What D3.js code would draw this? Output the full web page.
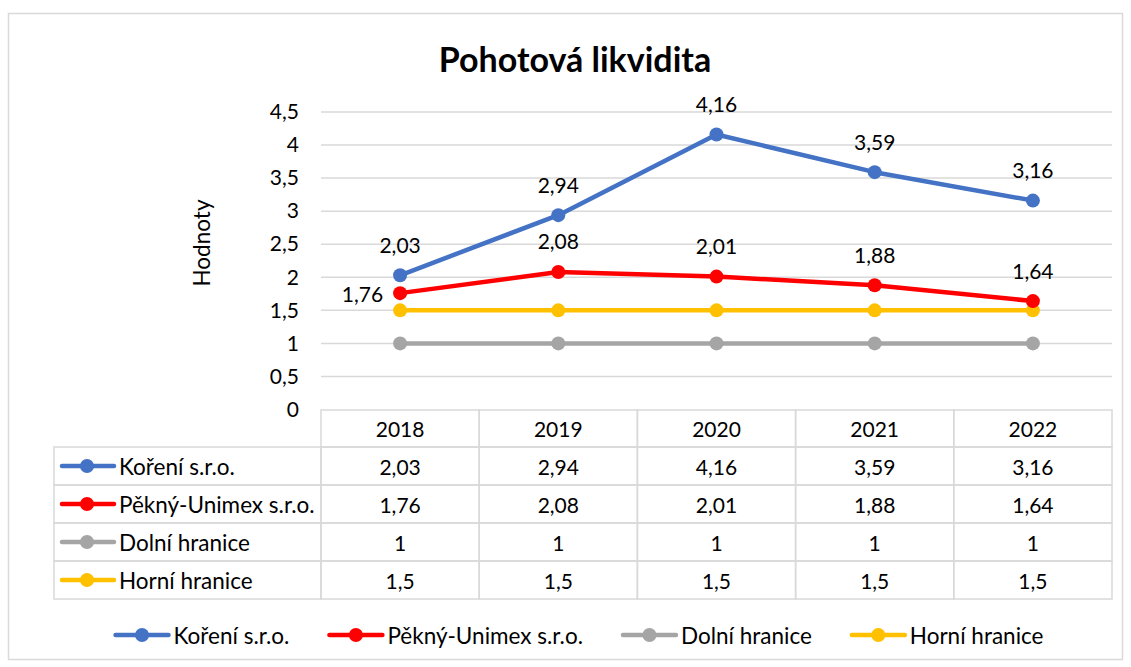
<!DOCTYPE html>
<html><head><meta charset="utf-8">
<script src="https://cdn.jsdelivr.net/npm/d3@7"></script>
<style>body{margin:0;background:#fff}svg{display:block}text{font-family:Lato,"Open Sans",sans-serif;fill:#000}</style>
</head><body><svg id="c" width="1131" height="667"></svg>
<script>
const years = ["2018","2019","2020","2021","2022"];
const seriesNames = ["Koření s.r.o.","Pěkný-Unimex s.r.o.","Dolní hranice","Horní hranice"];
const koreni = [2.03,2.94,4.16,3.59,3.16];
const pekny = [1.76,2.08,2.01,1.88,1.64];
const dolni = [1,1,1,1,1];
const horni = [1.5,1.5,1.5,1.5,1.5];
const colors = ["#4472C4","#FF0000","#A5A5A5","#FFC000"];
const yTicks = [0,0.5,1,1.5,2,2.5,3,3.5,4,4.5];
const title = "Pohotová likvidita";
const yTitle = "Hodnoty";

const series = [koreni,pekny,dolni,horni].map((v,i)=>({name:seriesNames[i],values:v,color:colors[i],labels:i<2}));
const loc = d3.formatLocale({decimal:",",thousands:" ",grouping:[3],currency:["","Kč"]});
const fmt = loc.format("~g");

const svg = d3.select("#c");
const L=321,R=1112,T=112,B=409.5;
const x = d3.scaleBand().domain(years).range([L,R]);
const y = d3.scaleLinear().domain([0,4.5]).range([B,T]);
const fs = 21;     // numbers
const fw = 22.5;   // words

svg.append("rect").attr("x",8.5).attr("y",13.5).attr("width",1114).attr("height",646).attr("fill","#fff").attr("stroke","#d9d9d9").attr("stroke-width",1.5);

svg.append("text").attr("x",575).attr("y",58).attr("text-anchor","middle").attr("dominant-baseline","central")
  .style("font-size","34px").style("font-weight","bold").text(title);

// grid
const g = svg.append("g");
g.selectAll("line.grid").data(yTicks.filter(d=>d>0)).join("line").attr("class","grid")
  .attr("x1",L).attr("x2",R).attr("y1",d=>y(d)).attr("y2",d=>y(d)).attr("stroke","#d9d9d9").attr("stroke-width",1.5);
const yAxis = d3.axisLeft(y).tickValues(yTicks).tickFormat(fmt).tickSize(0).tickPadding(22);
const ya = svg.append("g").attr("transform",`translate(${L},0)`).call(yAxis);
ya.select(".domain").remove();
ya.selectAll("text").style("font-size",fs+"px").style("font-family","Lato").attr("fill","#000");

svg.append("text").attr("transform","translate(201,243) rotate(-90)").attr("text-anchor","middle").attr("dominant-baseline","central")
  .style("font-size",fw+"px").text(yTitle);

// lines
const line = d3.line().x((d,i)=>x(years[i])+x.bandwidth()/2).y(d=>y(d));
const order = [2,3,1,0];
order.forEach(si=>{
  const s = series[si];
  svg.append("path").datum(s.values).attr("d",line).attr("fill","none").attr("stroke",s.color).attr("stroke-width",4.5).attr("stroke-linejoin","round").attr("stroke-linecap","round");
  svg.selectAll(null).data(s.values).join("circle").attr("cx",(d,i)=>x(years[i])+x.bandwidth()/2).attr("cy",d=>y(d)).attr("r",7).attr("fill",s.color);
});
series.forEach((s,si)=>{
  if(!s.labels) return;
  svg.selectAll(null).data(s.values).join("text")
    .attr("x",(d,i)=> (si===1&&i===0) ? x(years[i])+x.bandwidth()/2-17 : x(years[i])+x.bandwidth()/2)
    .attr("y",(d,i)=> (si===1&&i===0) ? y(d) : y(d)-31)
    .attr("text-anchor",(d,i)=>(si===1&&i===0)?"end":"middle").attr("dominant-baseline","central")
    .style("font-size",fs+"px").text(d=>fmt(d));
});

// data table
const rowH = 38, tTop = 410, hdrB = 447, keyL = 54;
const tb = svg.append("g");
const bc = "#d9d9d9", bw=1.5;
years.forEach(yr=>{
  tb.append("rect").attr("x",x(yr)).attr("y",tTop).attr("width",x.bandwidth()).attr("height",hdrB-tTop).attr("fill","none").attr("stroke",bc).attr("stroke-width",bw);
  tb.append("text").attr("x",x(yr)+x.bandwidth()/2).attr("y",(tTop+hdrB)/2).attr("text-anchor","middle").attr("dominant-baseline","central").style("font-size",fs+"px").text(yr);
});
series.forEach((s,si)=>{
  const ry = hdrB + si*rowH;
  tb.append("rect").attr("x",keyL).attr("y",ry).attr("width",L-keyL).attr("height",rowH).attr("fill","none").attr("stroke",bc).attr("stroke-width",bw);
  tb.append("line").attr("x1",62).attr("x2",114).attr("y1",ry+rowH/2).attr("y2",ry+rowH/2).attr("stroke",s.color).attr("stroke-width",4.5).attr("stroke-linecap","round");
  tb.append("circle").attr("cx",87).attr("cy",ry+rowH/2).attr("r",7).attr("fill",s.color);
  tb.append("text").attr("x",119).attr("y",ry+rowH/2).attr("dominant-baseline","central").style("font-size",fw+"px").text(s.name);
  s.values.forEach((v,i)=>{
    tb.append("rect").attr("x",x(years[i])).attr("y",ry).attr("width",x.bandwidth()).attr("height",rowH).attr("fill","none").attr("stroke",bc).attr("stroke-width",bw);
    tb.append("text").attr("x",x(years[i])+x.bandwidth()/2).attr("y",ry+rowH/2).attr("text-anchor","middle").attr("dominant-baseline","central").style("font-size",fs+"px").text(fmt(v));
  });
});

// legend
const lg = svg.append("g");
let lx = 0; const ly = 635;
series.forEach((s,si)=>{
  const it = lg.append("g");
  it.append("line").attr("x1",lx+2).attr("x2",lx+55).attr("y1",ly).attr("y2",ly).attr("stroke",s.color).attr("stroke-width",4.5).attr("stroke-linecap","round");
  it.append("circle").attr("cx",lx+28.5).attr("cy",ly).attr("r",7).attr("fill",s.color);
  const t = it.append("text").attr("x",lx+60).attr("y",ly).attr("dominant-baseline","central").style("font-size",fw+"px").text(s.name);
  lx += 60 + t.node().getComputedTextLength() + 38;
});
const totalW = lx - 38;
lg.attr("transform",`translate(${578.5-totalW/2},0)`);
</script></body></html>
